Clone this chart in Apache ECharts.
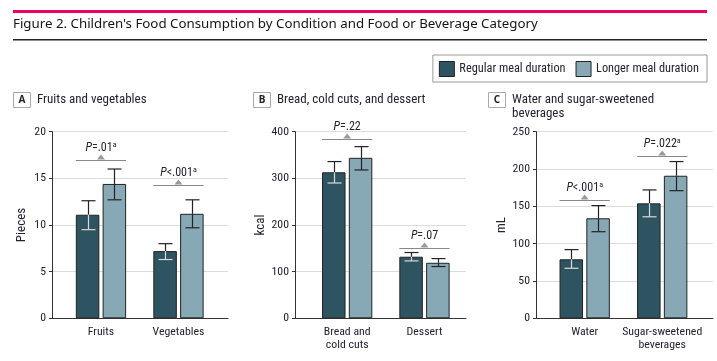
<!DOCTYPE html>
<html><head><meta charset="utf-8">
<script src="https://cdn.jsdelivr.net/npm/echarts@6/dist/echarts.min.js"></script>
<style>html,body{margin:0;padding:0;background:#fff}#c{width:717px;height:361px}</style>
</head><body><div id="c"></div>
<script>
// ---- data ----
const seriesNames = ['Regular meal duration', 'Longer meal duration'];
const panelLetters = ['A', 'B', 'C'];
const panelTitles = ['Fruits and vegetables', 'Bread, cold cuts, and dessert', 'Water and sugar-sweetened\nbeverages'];
const axisNames = ['Pieces', 'kcal', 'mL'];
const categoriesA = ['Fruits', 'Vegetables'];
const categoriesB = ['Bread and\ncold cuts', 'Dessert'];
const categoriesC = ['Water', 'Sugar-sweetened\nbeverages'];
// means and 95% CI ends (low, high)
const regularA = [11.1, 7.2], regularLowA = [9.5, 6.3], regularHighA = [12.6, 8.0];
const longerA = [14.4, 11.2], longerLowA = [12.7, 9.7], longerHighA = [16.0, 12.7];
const regularB = [313, 132], regularLowB = [290, 123], regularHighB = [336, 141];
const longerB = [344, 119], longerLowB = [318, 111], longerHighB = [368, 128];
const regularC = [79, 154], regularLowC = [67, 136], regularHighC = [92, 172];
const longerC = [134, 191], longerLowC = [116, 171], longerHighC = [151, 210];
// P values for the comparison of conditions; 'a' marks significance
const pTextA = ['=.01', '<.001'], pSupA = ['a', 'a'];
const pTextB = ['=.22', '=.07'], pSupB = ['', ''];
const pTextC = ['<.001', '=.022'], pSupC = ['a', 'a'];
const bracketA = [17, 14.3], bracketB = [384, 150], bracketC = [158, 218];
// y axis ticks
const yMaxes = [20, 400, 250], yIntervals = [5, 100, 50];

// ---- layout ----
const FONT = 'Noto Sans';
const SFONT = '"Roboto Condensed", "Liberation Sans Narrow", "Noto Sans"';
const TXT = '#262233';
const DARK = '#2e5462', LIGHT = '#87a9b6';
const BW = 23.5, GAP = '14%';
const HALF = BW * 1.07; // half the pair width
const OFF = BW * 0.57;  // bar center offset from category
const grids = [
  { left: 52, width: 176, xMin: 0.368, xMax: 2.639 },
  { left: 295, width: 171, xMin: 0.325, xMax: 2.537 },
  { left: 536, width: 177, xMin: 0.372, xMax: 2.655 }
];
const panels = [
  { cats: categoriesA, reg: [regularA, regularLowA, regularHighA], lon: [longerA, longerLowA, longerHighA], p: pTextA, sup: pSupA, br: bracketA },
  { cats: categoriesB, reg: [regularB, regularLowB, regularHighB], lon: [longerB, longerLowB, longerHighB], p: pTextB, sup: pSupB, br: bracketB },
  { cats: categoriesC, reg: [regularC, regularLowC, regularHighC], lon: [longerC, longerLowC, longerHighC], p: pTextC, sup: pSupC, br: bracketC }
];

const option = {
  animation: false,
  textStyle: { fontFamily: SFONT },
  legend: {
    data: seriesNames, right: 10, top: 55, orient: 'horizontal',
    borderColor: '#999', borderWidth: 1, padding: [6, 8, 5, 6], itemGap: 10,
    itemWidth: 15, itemHeight: 15, icon: 'rect',
    textStyle: { fontFamily: SFONT, fontSize: 12.3, color: TXT },
    itemStyle: { borderColor: '#222', borderWidth: 1 }
  },
  grid: [], xAxis: [], yAxis: [], series: [],
  graphic: []
};

panels.forEach((p, i) => {
  const g = grids[i];
  option.grid.push({ left: g.left, width: g.width, top: 131.7, bottom: 42.7 });
  option.xAxis.push({
    gridIndex: i, type: 'value', min: g.xMin, max: g.xMax,
    axisLine: { show: true, lineStyle: { color: '#333', width: 1 } },
    axisTick: { show: false }, splitLine: { show: false },
    axisLabel: { customValues: [1, 2], formatter: v => p.cats[Math.round(v) - 1], color: TXT, fontFamily: SFONT, fontSize: 11.8, margin: 7, lineHeight: 13 }
  });
  option.yAxis.push({
    gridIndex: i, type: 'value', min: 0, max: yMaxes[i], interval: yIntervals[i],
    axisLine: { show: true, lineStyle: { color: '#333' } },
    axisTick: { show: true, length: 3, lineStyle: { color: '#333' } },
    splitLine: { lineStyle: { color: '#dcdcdc' } },
    axisLabel: { color: TXT, fontFamily: SFONT, fontSize: 11.8, margin: 6 },
    name: axisNames[i], nameLocation: 'middle', nameGap: 24,
    nameTextStyle: { color: TXT, fontSize: 13, fontFamily: SFONT }
  });
  [p.reg, p.lon].forEach((s, j) => {
    option.series.push({
      type: 'bar', name: seriesNames[j], xAxisIndex: i, yAxisIndex: i,
      barWidth: BW, barGap: GAP,
      itemStyle: { color: j ? LIGHT : DARK, borderColor: '#222', borderWidth: 1 },
      data: s[0].map((v, k) => [k + 1, v])
    });
  });
  [p.reg, p.lon].forEach((s, j) => {
    option.series.push({
      type: 'custom', xAxisIndex: i, yAxisIndex: i, z: 5,
      data: s[0].map((v, k) => [k + 1, v, s[1][k], s[2][k]]),
      renderItem: (params, api) => {
        const x = api.value(0);
        const pm = api.coord([x, api.value(1)]), pl = api.coord([x, api.value(2)]), ph = api.coord([x, api.value(3)]);
        const cx = Math.round(pm[0] + (j ? OFF : -OFF)) + 0.5;
        const inner = j ? '#222' : '#d9d9d9';
        const cap = 7;
        const ls = c => ({ stroke: c, lineWidth: 1.2 });
        return { type: 'group', children: [
          { type: 'line', shape: { x1: cx, y1: ph[1], x2: cx, y2: pm[1] }, style: ls('#222') },
          { type: 'line', shape: { x1: cx, y1: pm[1], x2: cx, y2: pl[1] }, style: ls(inner) },
          { type: 'line', shape: { x1: cx - cap, y1: ph[1], x2: cx + cap, y2: ph[1] }, style: ls('#222') },
          { type: 'line', shape: { x1: cx - cap, y1: pl[1], x2: cx + cap, y2: pl[1] }, style: ls(inner) }
        ] };
      }
    });
  });
  option.series.push({
    type: 'custom', xAxisIndex: i, yAxisIndex: i, z: 6,
    data: p.br.map((v, k) => [k + 1, v]),
    renderItem: (params, api) => {
      const k = params.dataIndex;
      const c = api.coord([api.value(0), api.value(1)]);
      const y = Math.round(c[1]) + 0.5;
      return { type: 'group', children: [
        { type: 'line', shape: { x1: c[0] - HALF, y1: y, x2: c[0] + HALF, y2: y }, style: { stroke: '#888', lineWidth: 1 } },
        { type: 'polygon', shape: { points: [[c[0] - 4, y - 1], [c[0] + 4, y - 1], [c[0], y - 6]] }, style: { fill: '#999' } },
        { type: 'text', x: c[0], y: y - 13, style: {
          text: '{i|P}{n|' + p.p[k] + '}' + (p.sup[k] ? '{s|' + p.sup[k] + '}' : ''),
          align: 'center', verticalAlign: 'middle', fontFamily: SFONT,
          rich: { i: { fontStyle: 'italic', fontSize: 12, fill: TXT, fontFamily: SFONT }, n: { fontSize: 12, fill: TXT, fontFamily: SFONT }, s: { fontSize: 8, verticalAlign: 'top', fill: TXT, fontFamily: SFONT, lineHeight: 14 } }
        } }
      ] };
    }
  });
});

// header and panel labels
const labelX = [13, 253, 488];
option.graphic.push(
  { type: 'rect', left: 13, top: 10, shape: { width: 694, height: 3 }, style: { fill: '#ec0064' } },
  { type: 'text', left: 13, top: 17.5, style: { text: "Figure 2. Children's Food Consumption by Condition and Food or Beverage Category", fontFamily: FONT, fontSize: 13.3, fill: '#151515' } },
  { type: 'rect', left: 13, top: 39, shape: { width: 694, height: 1.5 }, style: { fill: '#222' } }
);
panelLetters.forEach((L, i) => {
  option.graphic.push(
    { type: 'rect', left: labelX[i], top: 92, shape: { width: 17, height: 15 }, style: { fill: '#fff', stroke: '#aaa', lineWidth: 1 } },
    { type: 'text', x: labelX[i] + 9, y: 100, style: { text: L, align: 'center', verticalAlign: 'middle', fontFamily: FONT, fontSize: 10, fontWeight: 'bold', fill: '#222' } },
    { type: 'text', x: labelX[i] + 24, y: 92, style: { text: panelTitles[i], fontFamily: SFONT, fontSize: 13, lineHeight: 14.5, fill: TXT } }
  );
});

const chart = echarts.init(document.getElementById('c'), null, { renderer: 'canvas' });
chart.setOption(option);
</script>
</body></html>
